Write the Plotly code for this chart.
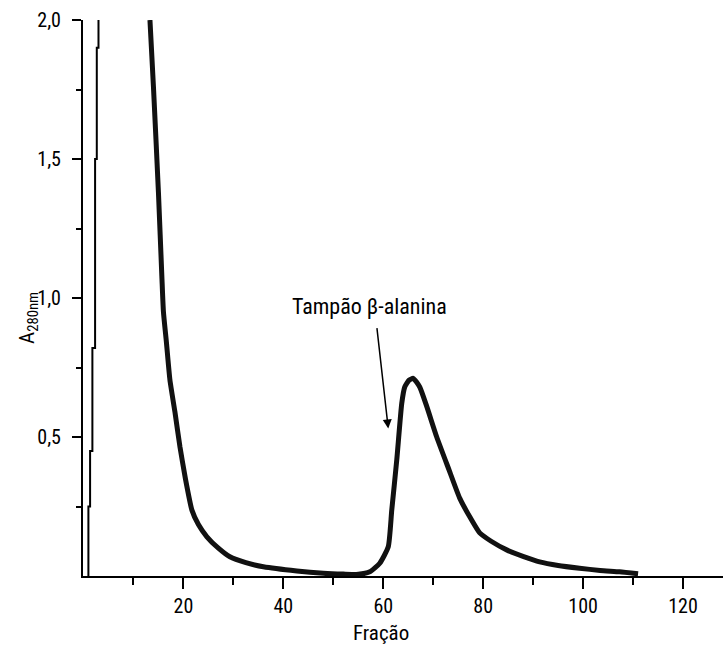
import plotly.graph_objects as go

# Main chromatogram curve (fraction vs A280nm)
fracao = [13.3, 14.0, 15.0, 15.7, 16.0, 16.6, 17.3, 18.3, 19.3, 20.4, 21.7, 23.0, 24.7,
          27.0, 29.3, 32.5, 36.0, 42.7, 48.0, 52.0, 55.0, 57.3, 59.3, 61.0, 61.7, 62.7,
          63.7, 64.3, 65.2, 66.0, 67.3, 68.7, 70.7, 73.2, 75.3, 77.4, 79.3, 81.6, 84.7,
          88.1, 91.3, 95.0, 99.3, 103.4, 107.3, 111.0]
absorb = [2.0, 1.76, 1.38, 1.07, 0.95, 0.84, 0.705, 0.59, 0.465, 0.35, 0.237, 0.185, 0.141,
          0.10, 0.069, 0.048, 0.033, 0.018, 0.010, 0.007, 0.006, 0.015, 0.046, 0.105, 0.237, 0.417,
          0.621, 0.68, 0.705, 0.711, 0.68, 0.61, 0.50, 0.38, 0.28, 0.21, 0.155, 0.125, 0.094,
          0.07, 0.051, 0.038, 0.028, 0.02, 0.015, 0.008]

# Thin step line near the origin
step_x = [0.98, 1.32, 1.78, 2.32, 2.66, 3.0, 3.0]
step_y = [0.0, 0.25, 0.45, 0.82, 1.5, 1.9, 2.0]

x_ticks = [20, 40, 60, 80, 100, 120]
x_minor = [10, 30, 50, 70, 90, 110]
y_ticks = [0.5, 1.0, 1.5, 2.0]
y_minor = [0.25, 0.75, 1.25, 1.75]

FONT = "Liberation Sans Narrow, Arial Narrow, Roboto Condensed, Liberation Sans, sans-serif"

fig = go.Figure()
fig.add_trace(go.Scatter(x=step_x, y=step_y, mode="lines",
                         line=dict(color="black", width=2, shape="vh"),
                         showlegend=False, hoverinfo="skip"))
fig.add_trace(go.Scatter(x=fracao, y=absorb, mode="lines",
                         line=dict(color="#111111", width=5, shape="spline", smoothing=0.5),
                         showlegend=False))

fig.update_layout(
    width=723, height=647,
    margin=dict(l=83, r=0, t=20, b=71, pad=0),
    paper_bgcolor="white", plot_bgcolor="white",
    separators=", ",
    font=dict(family=FONT, color="black", size=17),
    xaxis=dict(range=[-0.1, 128], showgrid=False, zeroline=False, automargin=False,
               showline=True, linecolor="black", linewidth=2,
               tickmode="array", tickvals=x_ticks, ticks="outside",
               ticklen=11, tickwidth=2, tickcolor="black",
               ticklabelstandoff=0,
               minor=dict(tickmode="array", tickvals=x_minor, ticks="outside",
                          ticklen=7, tickwidth=2, tickcolor="black", showgrid=False),
               tickfont=dict(size=20)),
    yaxis=dict(range=[0, 2.0], showgrid=False, zeroline=False, automargin=False,
               showline=True, linecolor="black", linewidth=2,
               tickmode="array", tickvals=y_ticks, tickformat=".1f", ticks="outside",
               ticklen=9, tickwidth=2, tickcolor="black",
               ticklabelstandoff=7,
               minor=dict(tickmode="array", tickvals=y_minor, ticks="outside",
                          ticklen=5, tickwidth=2, tickcolor="black", showgrid=False),
               tickfont=dict(size=20)),
    annotations=[
        dict(text="Tampão β-alanina", x=57.3, y=0.968, xref="x", yref="y",
             showarrow=False, font=dict(size=22), xanchor="center", yanchor="middle"),
        dict(text="", x=61.0, y=0.531, ax=58.7, ay=0.897, xref="x", yref="y",
             axref="x", ayref="y", showarrow=True, arrowhead=2, arrowsize=1.2,
             arrowwidth=1.5, arrowcolor="black"),
        dict(text="Fração", x=0.466, y=-0.1025, xref="paper", yref="paper",
             showarrow=False, font=dict(size=21), xanchor="center", yanchor="middle"),
        dict(text="A<sub>280nm</sub>", x=-0.086, y=0.464, xref="paper", yref="paper",
             showarrow=False, textangle=-90, font=dict(size=21),
             xanchor="center", yanchor="middle"),
    ],
)

fig.write_html("out.html", config={"displayModeBar": False},
               post_script="document.body.style.margin='0px';document.body.style.overflow='hidden';")
